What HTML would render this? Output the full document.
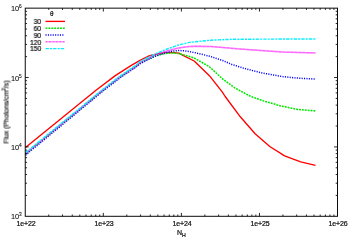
<!DOCTYPE html><html><head><meta charset="utf-8"><style>
html,body{margin:0;padding:0;background:#fff;}
#c{position:relative;width:350px;height:245px;overflow:hidden;background:#fff;font-family:"Liberation Sans",sans-serif;font-size:7px;color:#111;line-height:1;}
.t{position:absolute;white-space:nowrap;will-change:transform;-webkit-text-stroke:0.22px #111;}
.xt{transform:translateX(-50%);top:219.5px;letter-spacing:-0.12px;}
.yt{text-align:right;right:328.5px;font-size:7.4px;-webkit-text-stroke:0.08px #111;}
.lg{text-align:right;right:308.9px;font-size:7.4px;transform:scaleX(.92);transform-origin:right center;}
sup{font-size:5.4px;vertical-align:baseline;position:relative;top:-3.3px;line-height:0;margin-left:-0.5px;}
sub{font-size:5.2px;vertical-align:baseline;position:relative;top:1.8px;line-height:0;}
</style></head><body><div id="c">
<svg width="350" height="245" viewBox="0 0 350 245" style="position:absolute;left:0;top:0">
<g fill="none" stroke-width="1.35" stroke-linejoin="round">
<polyline points="25.5,147.5 96.0,90.2 115.3,75.6 130.5,65.9 140.0,60.3 148.6,56.0 157.1,53.8 165.7,52.6 172.0,52.4 178.8,53.2 183.0,55.3 194.2,61.0 209.4,75.7 222.0,91.6 225.2,96.5 240.3,116.8 255.1,133.8 269.8,146.5 284.6,155.9 300.7,161.8 315.5,165.3" stroke="#ff0000"/>
<polyline points="25.5,154.0 102.0,91.0 120.3,76.8 135.5,66.7 140.0,63.2 148.6,58.6 157.1,55.2 165.7,53.4 172.0,53.0 178.6,53.5 189.3,56.4 194.0,57.9 209.4,66.7 222.6,79.0 235.3,88.2 250.5,96.3 265.6,101.6 280.8,105.9 297.5,109.4 315.5,110.9" stroke="#00e800" stroke-width="1.55" stroke-dasharray="1.9 1.0"/>
<polyline points="25.5,155.1 102.0,91.9 120.3,77.6 135.5,67.4 140.0,63.8 154.3,56.6 165.7,52.6 172.0,51.2 178.6,50.5 184.0,50.8 189.3,51.5 195.5,52.8 210.7,56.5 223.3,60.8 232.0,64.5 237.2,66.2 247.2,69.2 262.3,73.0 282.6,76.6 297.7,78.1 315.5,79.1" stroke="#0000ff" stroke-width="1.5" stroke-dasharray="1.1 1.3"/>
<polyline points="25.5,153.6 102.0,90.7 120.3,76.5 135.5,66.3 140.0,62.6 154.3,55.0 165.7,51.2 178.6,47.9 189.3,46.5 195.5,46.3 210.7,46.5 225.9,47.7 237.2,48.8 257.3,50.3 282.6,52.0 315.5,52.9" stroke="#ff00ff" stroke-width="1.5" stroke-opacity="0.45"/>
<polyline points="25.5,153.6 102.0,90.7 120.3,76.5 135.5,66.3 140.0,62.6 154.3,55.0 165.7,51.2 178.6,47.9 189.3,46.5 195.5,46.3 210.7,46.5 225.9,47.7 237.2,48.8 257.3,50.3 282.6,52.0 315.5,52.9" stroke="#ff00ff" stroke-width="1.5" stroke-opacity="0.3" stroke-dasharray="2.4 0.5 0.6 0.5"/>
<polyline points="25.5,152.7 102.0,90.0 120.3,75.8 135.5,65.6 140.0,61.6 154.3,54.3 165.7,49.5 178.6,45.0 189.3,42.4 195.5,41.7 210.7,40.2 225.9,39.5 237.2,39.2 315.5,39.0" stroke="#08eeff" stroke-width="1.45" stroke-dasharray="3.4 1.1 2 1.1"/>
<line x1="45.5" x2="65" y1="21.4" y2="21.4" stroke="#ff0000"/>
<line x1="45.5" x2="65" y1="28.2" y2="28.2" stroke="#00e800" stroke-width="1.55" stroke-dasharray="1.9 1.0"/>
<line x1="45.5" x2="64.5" y1="35.0" y2="35.0" stroke="#0000ff" stroke-width="1.5" stroke-dasharray="1.1 1.3"/>
<line x1="45.5" x2="65" y1="41.8" y2="41.8" stroke="#ff00ff" stroke-width="1.5" stroke-opacity="0.62" stroke-dasharray="2.2 0.35 0.5 0.35"/>
<line x1="45.5" x2="65" y1="48.6" y2="48.6" stroke="#08eeff" stroke-width="1.45" stroke-dasharray="3.4 1.1 2 1.1"/>
</g>
<path d="M48.75 216.3v-1.8M48.75 8.15v1.8M62.50 216.3v-1.8M62.50 8.15v1.8M72.25 216.3v-1.8M72.25 8.15v1.8M79.81 216.3v-1.8M79.81 8.15v1.8M85.99 216.3v-1.8M85.99 8.15v1.8M91.22 216.3v-1.8M91.22 8.15v1.8M95.75 216.3v-1.8M95.75 8.15v1.8M99.74 216.3v-1.8M99.74 8.15v1.8M103.31 216.3v-3.4M103.31 8.15v3.4M126.81 216.3v-1.8M126.81 8.15v1.8M140.56 216.3v-1.8M140.56 8.15v1.8M150.31 216.3v-1.8M150.31 8.15v1.8M157.88 216.3v-1.8M157.88 8.15v1.8M164.06 216.3v-1.8M164.06 8.15v1.8M169.28 216.3v-1.8M169.28 8.15v1.8M173.81 216.3v-1.8M173.81 8.15v1.8M177.80 216.3v-1.8M177.80 8.15v1.8M181.38 216.3v-3.4M181.38 8.15v3.4M204.87 216.3v-1.8M204.87 8.15v1.8M218.62 216.3v-1.8M218.62 8.15v1.8M228.37 216.3v-1.8M228.37 8.15v1.8M235.94 216.3v-1.8M235.94 8.15v1.8M242.12 216.3v-1.8M242.12 8.15v1.8M247.35 216.3v-1.8M247.35 8.15v1.8M251.87 216.3v-1.8M251.87 8.15v1.8M255.87 216.3v-1.8M255.87 8.15v1.8M259.44 216.3v-3.4M259.44 8.15v3.4M282.94 216.3v-1.8M282.94 8.15v1.8M296.68 216.3v-1.8M296.68 8.15v1.8M306.44 216.3v-1.8M306.44 8.15v1.8M314.00 216.3v-1.8M314.00 8.15v1.8M320.18 216.3v-1.8M320.18 8.15v1.8M325.41 216.3v-1.8M325.41 8.15v1.8M329.93 216.3v-1.8M329.93 8.15v1.8M333.93 216.3v-1.8M333.93 8.15v1.8M25.25 195.41h1.8M337.5 195.41h-1.8M25.25 183.20h1.8M337.5 183.20h-1.8M25.25 174.53h1.8M337.5 174.53h-1.8M25.25 167.80h1.8M337.5 167.80h-1.8M25.25 162.31h1.8M337.5 162.31h-1.8M25.25 157.66h1.8M337.5 157.66h-1.8M25.25 153.64h1.8M337.5 153.64h-1.8M25.25 150.09h1.8M337.5 150.09h-1.8M25.25 146.92h3.4M337.5 146.92h-3.4M25.25 126.03h1.8M337.5 126.03h-1.8M25.25 113.81h1.8M337.5 113.81h-1.8M25.25 105.14h1.8M337.5 105.14h-1.8M25.25 98.42h1.8M337.5 98.42h-1.8M25.25 92.93h1.8M337.5 92.93h-1.8M25.25 88.28h1.8M337.5 88.28h-1.8M25.25 84.26h1.8M337.5 84.26h-1.8M25.25 80.71h1.8M337.5 80.71h-1.8M25.25 77.53h3.4M337.5 77.53h-3.4M25.25 56.65h1.8M337.5 56.65h-1.8M25.25 44.43h1.8M337.5 44.43h-1.8M25.25 35.76h1.8M337.5 35.76h-1.8M25.25 29.04h1.8M337.5 29.04h-1.8M25.25 23.54h1.8M337.5 23.54h-1.8M25.25 18.90h1.8M337.5 18.90h-1.8M25.25 14.87h1.8M337.5 14.87h-1.8M25.25 11.32h1.8M337.5 11.32h-1.8" stroke="#000" stroke-width="1" stroke-opacity="0.85" fill="none"/>
<rect x="25.25" y="8.15" width="312.25" height="208.15" fill="none" stroke="#0a0a0a" stroke-width="1.0"/>
</svg>
<div class="t xt" style="left:25.8px">1e+22</div>
<div class="t xt" style="left:103.8px">1e+23</div>
<div class="t xt" style="left:181.9px">1e+24</div>
<div class="t xt" style="left:259.9px">1e+25</div>
<div class="t xt" style="left:338.0px">1e+26</div>
<div class="t yt" style="top:213.4px">10<sup>3</sup></div>
<div class="t yt" style="top:144.0px">10<sup>4</sup></div>
<div class="t yt" style="top:74.6px">10<sup>5</sup></div>
<div class="t yt" style="top:5.2px">10<sup>6</sup></div>
<div class="t" style="left:49.9px;top:11.0px;font-size:6.3px;">&theta;</div>
<div class="t lg" style="top:18.1px">30</div>
<div class="t lg" style="top:24.9px">60</div>
<div class="t lg" style="top:31.7px">90</div>
<div class="t lg" style="top:38.5px">120</div>
<div class="t lg" style="top:45.3px">150</div>
<div class="t" style="left:177px;top:228.9px;">N<sub>H</sub></div>
<div class="t" id="yl" style="left:6.6px;top:112.3px;font-size:6.9px;-webkit-text-stroke:0.18px #111;letter-spacing:-0.03px;transform:translate(-50%,-50%) rotate(-90deg);">Flux (Photons/cm<sup>2</sup>/s)</div>
</div></body></html>
